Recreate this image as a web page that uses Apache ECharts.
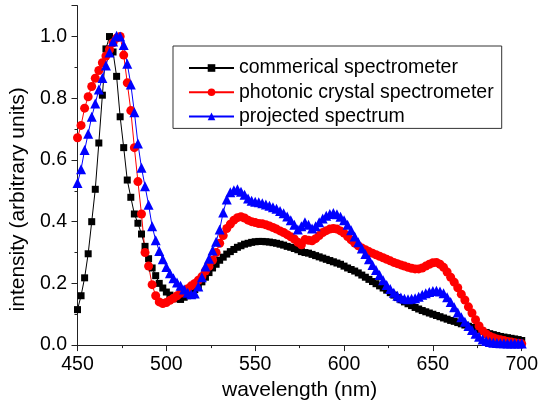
<!DOCTYPE html>
<html><head><meta charset="utf-8">
<script src="https://cdn.jsdelivr.net/npm/echarts@6/dist/echarts.min.js"></script>
<style>html,body{margin:0;padding:0;background:#fff}#c{width:541px;height:406px}</style>
</head><body><div id="c"></div>
<script>
var wavelengths = [450,452,454,456,458,460,462,464,466,468,470,472,474,476,478,480,482,484,486,488,490,492,494,496,498,
500,502,504,506,508,510,512,514,516,518,520,522,524,526,528,530,532,534,536,538,540,542,544,546,548,
550,552,554,556,558,560,562,564,566,568,570,572,574,576,578,580,582,584,586,588,590,592,594,596,598,
600,602,604,606,608,610,612,614,616,618,620,622,624,626,628,630,632,634,636,638,640,642,644,646,648,
650,652,654,656,658,660,662,664,666,668,670,672,674,676,678,680,682,684,686,688,690,692,694,696,698,700];

var commercial = [0.115,0.16,0.218,0.296,0.40,0.505,0.655,0.81,0.96,1.0,0.95,0.871,0.74,0.64,0.535,0.479,0.425,0.395,0.36,0.32,0.28,0.25,0.225,0.2,0.185,
0.172,0.162,0.155,0.15,0.148,0.155,0.16,0.17,0.18,0.19,0.205,0.22,0.235,0.25,0.262,0.275,0.285,0.295,0.303,0.31,0.317,0.322,0.327,0.33,0.333,
0.335,0.336,0.336,0.335,0.334,0.332,0.33,0.327,0.324,0.32,0.317,0.313,0.309,0.303,0.3,0.298,0.294,0.29,0.286,0.282,0.278,0.274,0.27,0.266,0.262,
0.256,0.25,0.245,0.24,0.234,0.227,0.22,0.213,0.206,0.199,0.192,0.185,0.178,0.17,0.162,0.154,0.147,0.14,0.134,0.128,0.122,0.117,0.112,0.108,0.104,
0.1,0.096,0.092,0.088,0.084,0.08,0.077,0.073,0.069,0.065,0.061,0.057,0.053,0.049,0.045,0.041,0.037,0.034,0.031,0.028,0.026,0.024,0.022,0.02,0.018,0.015];

var photonic = [0.672,0.712,0.768,0.805,0.838,0.865,0.89,0.915,0.937,0.958,0.98,0.995,1.0,0.94,0.85,0.76,0.64,0.53,0.425,0.3,0.256,0.196,0.16,0.14,0.135,
0.138,0.145,0.152,0.16,0.168,0.175,0.183,0.192,0.2,0.21,0.222,0.24,0.255,0.275,0.3,0.33,0.355,0.378,0.392,0.405,0.413,0.416,0.412,0.405,0.4,
0.397,0.394,0.393,0.39,0.386,0.381,0.376,0.37,0.365,0.358,0.351,0.344,0.333,0.325,0.342,0.34,0.338,0.345,0.355,0.365,0.371,0.376,0.378,0.376,0.37,
0.363,0.352,0.341,0.331,0.322,0.315,0.309,0.303,0.298,0.293,0.288,0.283,0.278,0.273,0.268,0.264,0.26,0.256,0.252,0.249,0.247,0.247,0.25,0.256,0.262,
0.267,0.268,0.262,0.252,0.237,0.22,0.204,0.186,0.165,0.146,0.124,0.104,0.082,0.062,0.046,0.036,0.029,0.024,0.02,0.017,0.015,0.012,0.01,0.008,0.006,0.004];

var projected = [0.525,0.57,0.632,0.685,0.74,0.783,0.828,0.866,0.906,0.948,0.984,1.003,1.0,0.973,0.912,0.845,0.755,0.653,0.575,0.515,0.455,0.385,0.34,0.305,0.278,
0.253,0.233,0.217,0.203,0.192,0.18,0.17,0.165,0.167,0.19,0.22,0.255,0.28,0.307,0.335,0.375,0.43,0.472,0.495,0.502,0.505,0.497,0.487,0.475,0.468,
0.465,0.463,0.46,0.456,0.452,0.447,0.442,0.435,0.427,0.417,0.405,0.39,0.375,0.385,0.398,0.39,0.378,0.385,0.398,0.41,0.419,0.425,0.428,0.424,0.416,
0.405,0.39,0.372,0.352,0.333,0.313,0.295,0.278,0.26,0.243,0.227,0.21,0.195,0.182,0.17,0.16,0.154,0.15,0.149,0.15,0.152,0.157,0.163,0.168,0.172,
0.175,0.176,0.174,0.168,0.155,0.14,0.123,0.106,0.09,0.076,0.062,0.049,0.037,0.027,0.018,0.013,0.01,0.008,0.007,0.006,0.006,0.005,0.005,0.005,0.005,0.005];

var seriesNames = ['commerical spectrometer','photonic crystal spectrometer','projected spectrum'];

function pairs(ys){ return wavelengths.map(function(x,i){ return [x, ys[i]]; }); }

var FONT = 'Liberation Sans, Arial, sans-serif';
var axisCol = '#222';
var chart = echarts.init(document.getElementById('c'), null, {renderer:'canvas'});
chart.setOption({
  animation:false,
  backgroundColor:'#fff',
  textStyle:{fontFamily:FONT},
  grid:{left:73.5, right:15.5, top:5.7, bottom:59.3, containLabel:false},
  legend:{
    orient:'vertical', left:173, top:46,
    padding:[12,8,2,15],
    borderColor:'#333', borderWidth:1,
    itemWidth:45, itemHeight:9.5, itemGap:4.2,
    textStyle:{fontSize:19.5, color:'#000', fontFamily:FONT, lineHeight:20},
    data:seriesNames
  },
  xAxis:{
    type:'value', min:450, max:700, interval:50,
    name:'wavelength (nm)', nameLocation:'middle', nameGap:30,
    nameTextStyle:{fontSize:21, color:'#000', fontFamily:FONT},
    axisLine:{show:true, onZero:false, lineStyle:{color:axisCol, width:1}},
    axisTick:{show:true, inside:false, length:6, lineStyle:{color:axisCol}},
    minorTick:{show:true, splitNumber:2, length:3, lineStyle:{color:axisCol}},
    splitLine:{show:false},
    axisLabel:{fontSize:19.5, color:'#000', margin:10, fontFamily:FONT}
  },
  yAxis:{
    type:'value', min:0, max:1.1, interval:0.2,
    name:'intensity (arbitrary units)', nameLocation:'middle', nameGap:40.5,
    nameTextStyle:{fontSize:21, color:'#000', fontFamily:FONT, padding:[0,48,0,0]},
    axisLine:{show:true, onZero:false, lineStyle:{color:axisCol, width:1}},
    axisTick:{show:true, inside:false, length:6, lineStyle:{color:axisCol}},
    minorTick:{show:true, splitNumber:2, length:3, lineStyle:{color:axisCol}},
    splitLine:{show:false},
    axisLabel:{fontSize:19.5, color:'#000', margin:10.5, fontFamily:FONT,
      formatter:function(v){ return v > 1.05 ? '' : v.toFixed(1); }}
  },
  series:[
    {name:seriesNames[0], type:'line', data:pairs(commercial), symbol:'rect', symbolSize:7,
     color:'#000', lineStyle:{width:1, color:'#000'}, itemStyle:{color:'#000'}},
    {name:seriesNames[1], type:'line', data:pairs(photonic), symbol:'circle', symbolSize:9,
     color:'#ff0000', lineStyle:{width:1, color:'#ff0000'}, itemStyle:{color:'#ff0000'}},
    {name:seriesNames[2], type:'line', data:pairs(projected), symbol:'triangle', symbolSize:10,
     color:'#0000ff', lineStyle:{width:1, color:'#0000ff'}, itemStyle:{color:'#0000ff'}}
  ]
});
</script>
</body></html>
